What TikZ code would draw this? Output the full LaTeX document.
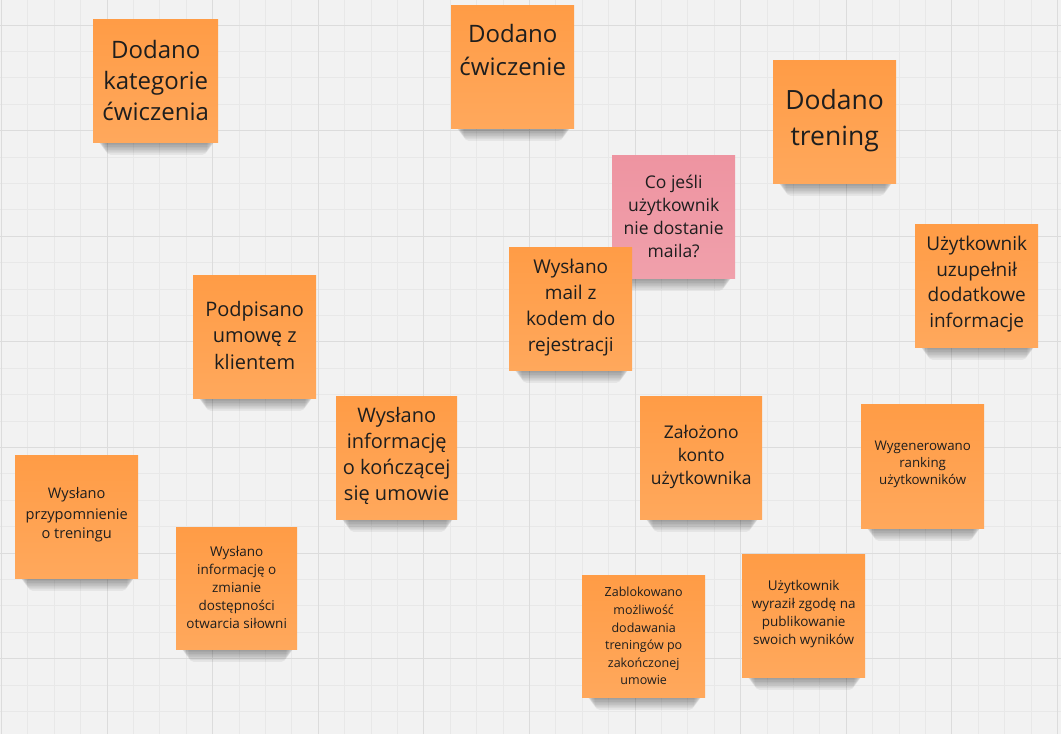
\documentclass[tikz,border=0pt]{standalone}
\usepackage{fontspec}
\setmainfont{Open Sans}
\definecolor{bg}{HTML}{F2F2F2}
\definecolor{gminor}{HTML}{E8E8E8}
\definecolor{gmajor}{HTML}{DCDCDC}
\definecolor{orangetop}{HTML}{FF9C46}
\definecolor{orangebot}{HTML}{FFA85C}
\definecolor{pinktop}{HTML}{EE94A1}
\definecolor{pinkbot}{HTML}{F0A0AB}
\definecolor{ink}{HTML}{1E1E1E}
\tikzset{
  notebox/.style={rectangle, inner sep=0pt, anchor=north west},
  orangenote/.style={top color=orangetop, bottom color=orangebot},
  pinknote/.style={top color=pinktop, bottom color=pinkbot},
  notetext/.style={align=center, text=ink, inner sep=0pt},
  minorline/.style={draw=gminor, line width=0.8pt},
  majorline/.style={draw=gmajor, line width=1pt},
  shadowlayer/.style={fill=black, opacity=0.05, rounded corners=5pt},
}
\newcommand\stickynote[9]{%
  \foreach \i in {1,...,8}{\fill[shadowlayer] (#2+3+1.2*\i,#5-12) rectangle (#4-1-1.2*\i,#5+1.6*\i);}
  \node[notebox,#6,minimum width={(#4-#2)*1pt},minimum height={(#5-#3)*1pt},
    label={[notetext,font={#7},yshift=#9]center:{#8}}] (#1) at (#2,#3) {};
}
\begin{document}
\begin{tikzpicture}[x=1pt,y=-1pt]
\useasboundingbox (0,0) rectangle (1061,734);
\fill[bg] (0,0) rectangle (1061,734);
\foreach \k in {0,...,40}{\draw[minorline] ({1.4+26.4*\k},0) -- ({1.4+26.4*\k},734);}
\foreach \k in {0,...,28}{\draw[minorline] (0,{-1.4+26.4*\k}) -- (1061,{-1.4+26.4*\k});}
\foreach \k in {0,...,10}{\draw[majorline] ({1.4+105.6*\k},0) -- ({1.4+105.6*\k},734);}
\foreach \k in {0,...,6}{\draw[majorline] (0,{25+105.6*\k}) -- (1061,{25+105.6*\k});}

\stickynote{n1}{93}{19}{218}{142}{orangenote}{\fontsize{24}{31}\selectfont}{Dodano\\kategorie\\ćwiczenia}{0pt}
\stickynote{n2}{451}{5}{574}{128}{orangenote}{\fontsize{24}{33}\selectfont}{Dodano\\ćwiczenie}{17pt}
\stickynote{n3}{773}{60}{896}{183}{orangenote}{\fontsize{26.5}{36}\selectfont}{Dodano\\trening}{1.5pt}
\stickynote{n4}{612}{155}{735}{278}{pinknote}{\fontsize{17.5}{23}\selectfont}{Co jeśli\\użytkownik\\nie dostanie\\maila?}{0pt}
\stickynote{n5}{509}{247}{632}{370}{orangenote}{\fontsize{19}{26}\selectfont}{Wysłano\\mail z\\kodem do\\rejestracji}{1.5pt}
\stickynote{n6}{915}{224}{1038}{347}{orangenote}{\fontsize{19}{25.7}\selectfont}{Użytkownik\\uzupełnił\\dodatkowe\\informacje}{1.5pt}
\stickynote{n7}{193}{275}{316}{398}{orangenote}{\fontsize{20}{26.5}\selectfont}{Podpisano\\umowę z\\klientem}{1.5pt}
\stickynote{n8}{336}{396}{457}{519}{orangenote}{\fontsize{20}{26}\selectfont}{Wysłano\\informację\\o kończącej\\się umowie}{1.5pt}
\stickynote{n9}{640}{396}{762}{519}{orangenote}{\fontsize{17.5}{23}\selectfont}{Założono\\konto\\użytkownika}{0.5pt}
\stickynote{n10}{861}{404}{984}{528}{orangenote}{\fontsize{13.3}{17}\selectfont}{Wygenerowano\\ranking\\użytkowników}{2pt}
\stickynote{n11}{15}{455}{138}{578}{orangenote}{\fontsize{14.6}{20}\selectfont}{Wysłano\\przypomnienie\\o treningu}{1.5pt}
\stickynote{n12}{176}{527}{297}{649}{orangenote}{\fontsize{13.5}{18}\selectfont}{Wysłano\\informację o\\zmianie\\dostępności\\otwarcia siłowni}{1pt}
\stickynote{n13}{582}{575}{705}{697}{orangenote}{\fontsize{12.5}{17.6}\selectfont}{Zablokowano\\możliwość\\dodawania\\treningów po\\zakończonej\\umowie}{0pt}
\stickynote{n14}{742}{554}{865}{677}{orangenote}{\fontsize{13.5}{18}\selectfont}{Użytkownik\\wyraził zgodę na\\publikowanie\\swoich wyników}{1.5pt}
\end{tikzpicture}
\end{document}
